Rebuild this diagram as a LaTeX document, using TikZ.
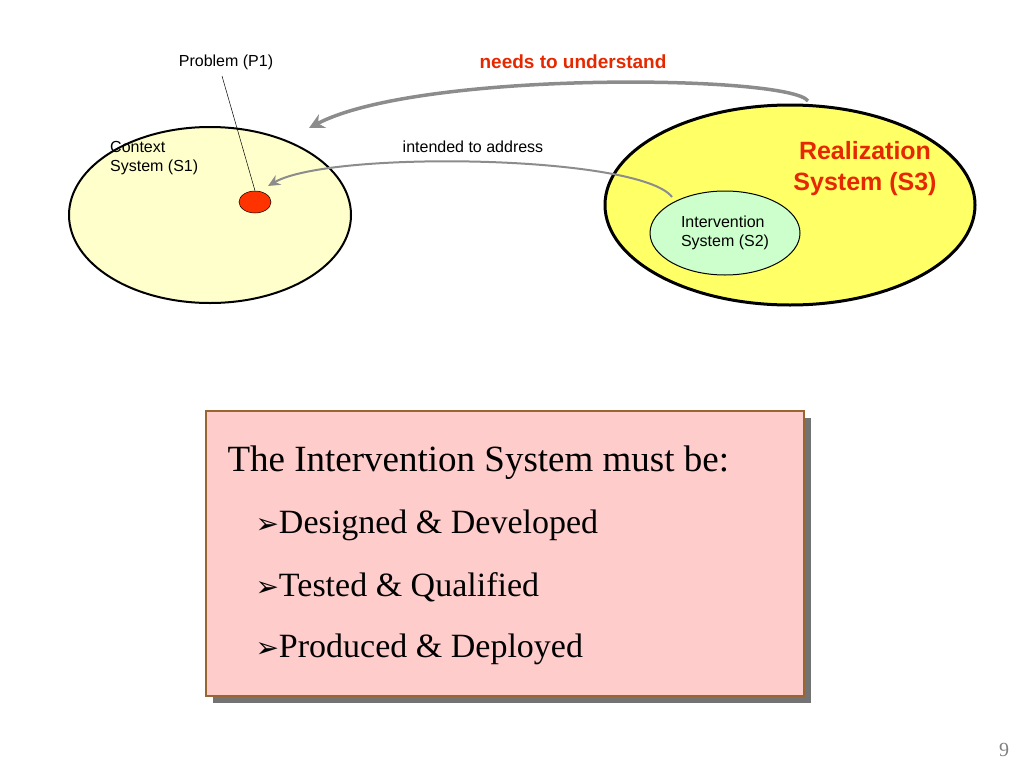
\documentclass[tikz,border=0pt]{standalone}
\usepackage{fontspec}
\setmainfont{Liberation Serif}
\setsansfont{Liberation Sans}
\newfontfamily\dejavu{DejaVu Sans}
\usetikzlibrary{arrows.meta,shadows,shapes.geometric}
\definecolor{ctxfill}{RGB}{255,255,204}
\definecolor{realfill}{RGB}{255,255,102}
\definecolor{intfill}{RGB}{204,255,204}
\definecolor{probred}{RGB}{255,51,0}
\definecolor{titred}{RGB}{230,40,0}
\definecolor{boxfill}{RGB}{255,204,204}
\definecolor{boxline}{RGB}{153,102,51}
\definecolor{arrgray}{RGB}{140,140,140}
\tikzset{
  lab/.style={font=\sffamily\fontsize{16}{19}\selectfont, align=left},
  conn/.style={draw=arrgray, -{Stealth[length=12pt,width=11pt]}},
  bul/.style={anchor=west, font=\fontsize{34}{38}\selectfont}
}
\begin{document}
\begin{tikzpicture}[x=1pt,y=-1pt]
\useasboundingbox (0,0) rectangle (1024,768);
% ellipses
\node (ctx) [draw=black, line width=2pt, fill=ctxfill, shape=ellipse, minimum width=282pt, minimum height=176pt] at (210,215) {};
\node (real) [draw=black, line width=3pt, fill=realfill, shape=ellipse, minimum width=370pt, minimum height=200pt] at (790,205) {};
\node (p1) [draw=black, line width=0.5pt, fill=probred, shape=ellipse, minimum width=32pt, minimum height=22pt, inner sep=0pt] at (255,202) {};
\node (s2) [draw=black, line width=1pt, fill=intfill, shape=ellipse, minimum width=150pt, minimum height=84pt, inner sep=0pt, lab, align=left] at (725,233) {Intervention\\System (S2)};
% texts
\node (ctxt) [lab, anchor=north west, inner sep=0pt] at (110,141) {Context\\System (S1)};
\node (plab) [lab] at (226,62) {Problem (P1)};
\draw[line width=0.5pt] (222,76) coordinate (pl) -- (p1.north);
\node (need) [font=\sffamily\bfseries\fontsize{19}{22}\selectfont, text=titred] at (573,62) {needs to understand};
\node (inte) [lab] at (473,147) {intended to address};
\node (rlab) [font=\sffamily\bfseries\fontsize{25}{31}\selectfont, text=titred, align=center] at (865,169) {Realization\\System (S3)};
% connectors
\coordinate (nstart) at (808,101);
\coordinate (nend) at (309,128);
\draw[conn, line width=3.5pt, -{Stealth[length=15pt,width=15pt]}] (nstart) .. controls (790,75) and (420,70) .. (nend);
\coordinate (istart) at (672,197);
\coordinate (iend) at (268,186);
\draw[conn, line width=2pt] (istart) .. controls (640,155) and (330,150) .. (iend);
% box
\node (box) [draw=boxline, line width=1.5pt, fill=boxfill, minimum width=598pt, minimum height=285pt, anchor=north west, drop shadow={shadow xshift=7pt, shadow yshift=-7pt, fill=black!55, opacity=1}] at (205,410) {};
\node (h) [anchor=west, font=\fontsize{37}{42}\selectfont] at (224,463) {The Intervention System must be:};
\node (b1) [bul] at (252,525) {{\dejavu\fontsize{28}{32}\selectfont ➢}Designed \& Developed};
\node (b2) [bul] at (252,587) {{\dejavu\fontsize{28}{32}\selectfont ➢}Tested \& Qualified};
\node (b3) [bul] at (252,649) {{\dejavu\fontsize{28}{32}\selectfont ➢}Produced \& Deployed};
\node (pg) [text=gray, font=\fontsize{20}{22}\selectfont] at (1004,750) {9};
\end{tikzpicture}
\end{document}
